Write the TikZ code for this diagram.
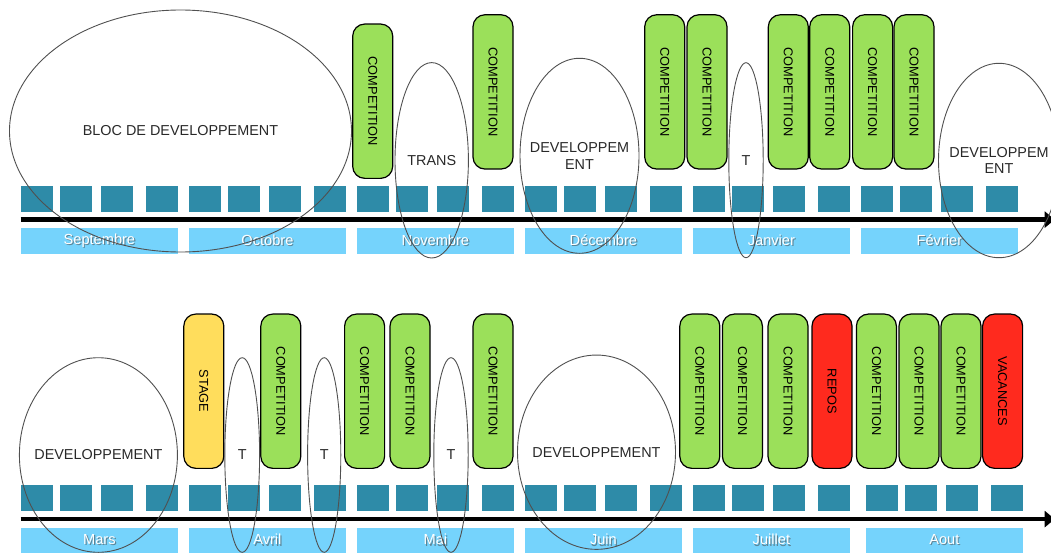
\documentclass[tikz,border=0pt]{standalone}
\usepackage{fontspec}
\setmainfont{Liberation Sans}
\usepackage{graphicx}
\usepackage{xcolor}
\usepackage{tikz}
\usetikzlibrary{shapes.geometric, arrows.meta, positioning, calc}
\definecolor{weekBg}{RGB}{46, 139, 168}
\definecolor{monthBg}{RGB}{117, 211, 252}
\definecolor{monthShadow}{RGB}{92, 132, 150}
\definecolor{greenBoxBg}{RGB}{155, 224, 90}
\definecolor{redBoxBg}{RGB}{255, 42, 30}
\definecolor{yellowBoxBg}{RGB}{255, 221, 92}
\definecolor{blocFg}{RGB}{80, 80, 80}
\definecolor{blocText}{RGB}{40, 40, 40}
\tikzstyle{axis} = [line width=4.4pt, -{Triangle[length=10pt, width=16pt]}]
\tikzstyle{week} = [rectangle, minimum width=32pt, minimum height=26pt, inner sep=0pt, fill=weekBg]
\tikzstyle{month} = [rectangle, minimum width=157pt, minimum height=25.5pt, inner sep=0pt, fill=monthBg, text=white, font=\fontsize{14.6}{16}\selectfont]
\tikzstyle{event} = [rectangle, rounded corners=12pt, minimum width=40pt, minimum height=154.3pt, inner sep=0pt, outer sep=0pt, draw=black, line width=1.2pt, text=black, font=\fontsize{12.8}{14}\selectfont]
\tikzstyle{greenstyle} = [fill=greenBoxBg]
\tikzstyle{redstyle} = [fill=redBoxBg]
\tikzstyle{yellowstyle} = [fill=yellowBoxBg]
\tikzstyle{bloc} = [ellipse, draw=blocFg, line width=0.9pt, inner sep=0pt, align=center, text=blocText, font=\fontsize{14.4}{16.6}\selectfont]
\newcommand{\shadowed}[1]{\makebox[0pt][l]{\hspace{1.2pt}\raisebox{-1.2pt}{\textcolor{monthShadow}{#1}}}#1}
\newcommand{\downtext}[1]{\rotatebox{-90}{#1}}

\begin{document}
\begin{tikzpicture}[x=1pt, y=1pt, node distance=0mm]
\useasboundingbox (0,0) rectangle (1051,-554);

% septembre -> fevrier
\node (sep) [month, anchor=north west] at (20.7,-228) {\shadowed{Septembre}};
\node (oct) [month, anchor=west, xshift=10.6pt] at(sep.east) {\shadowed{Octobre}};
\node (nov) [month, anchor=west, xshift=10.6pt] at(oct.east) {\shadowed{Novembre}};
\node (dec) [month, anchor=west, xshift=10.6pt] at(nov.east) {\shadowed{Décembre}};
\node (jan) [month, anchor=west, xshift=10.6pt] at(dec.east) {\shadowed{Janvier}};
\node (feb) [month, anchor=west, xshift=10.6pt] at(jan.east) {\shadowed{Février}};

\node (sep_0) [week, anchor=south west, yshift=16pt] at(sep.north west) {};
\node (sep_1) [week, anchor=south west, yshift=16pt, xshift=39pt] at(sep.north west) {};
\node (sep_2) [week, anchor=south west, yshift=16pt, xshift=80pt] at(sep.north west) {};
\node (sep_3) [week, anchor=south west, yshift=16pt, xshift=125pt] at(sep.north west) {};
\node (oct_0) [week, anchor=south west, yshift=16pt] at(oct.north west) {};
\node (oct_1) [week, anchor=south west, yshift=16pt, xshift=39pt] at(oct.north west) {};
\node (oct_2) [week, anchor=south west, yshift=16pt, xshift=80pt] at(oct.north west) {};
\node (oct_3) [week, anchor=south west, yshift=16pt, xshift=125pt] at(oct.north west) {};
\node (nov_0) [week, anchor=south west, yshift=16pt] at(nov.north west) {};
\node (nov_1) [week, anchor=south west, yshift=16pt, xshift=39pt] at(nov.north west) {};
\node (nov_2) [week, anchor=south west, yshift=16pt, xshift=80pt] at(nov.north west) {};
\node (nov_3) [week, anchor=south west, yshift=16pt, xshift=125pt] at(nov.north west) {};
\node (dec_0) [week, anchor=south west, yshift=16pt] at(dec.north west) {};
\node (dec_1) [week, anchor=south west, yshift=16pt, xshift=39pt] at(dec.north west) {};
\node (dec_2) [week, anchor=south west, yshift=16pt, xshift=80pt] at(dec.north west) {};
\node (dec_3) [week, anchor=south west, yshift=16pt, xshift=125pt] at(dec.north west) {};
\node (jan_0) [week, anchor=south west, yshift=16pt] at(jan.north west) {};
\node (jan_1) [week, anchor=south west, yshift=16pt, xshift=39pt] at(jan.north west) {};
\node (jan_2) [week, anchor=south west, yshift=16pt, xshift=80pt] at(jan.north west) {};
\node (jan_3) [week, anchor=south west, yshift=16pt, xshift=125pt] at(jan.north west) {};
\node (feb_0) [week, anchor=south west, yshift=16pt] at(feb.north west) {};
\node (feb_1) [week, anchor=south west, yshift=16pt, xshift=39pt] at(feb.north west) {};
\node (feb_2) [week, anchor=south west, yshift=16pt, xshift=80pt] at(feb.north west) {};
\node (feb_3) [week, anchor=south west, yshift=16pt, xshift=125pt] at(feb.north west) {};

\coordinate (axis0) at ($(sep.north west)+(0,8.4)$);
\coordinate (axis0_end) at ($(axis0)+(1034,0)$);
\draw [axis] (axis0) -- (axis0_end);

\node (comp0) [event, greenstyle] at (372.7,-101.2) {\downtext{COMPETITION}};
\node (comp1) [event, greenstyle] at (493,-91.9) {\downtext{COMPETITION}};
\node (comp2) [event, greenstyle] at (664.7,-91.9) {\downtext{COMPETITION}};
\node (comp3) [event, greenstyle, anchor=west, xshift=2.3pt] at(comp2.east) {\downtext{COMPETITION}};
\node (comp4) [event, greenstyle] at (788.3,-91.9) {\downtext{COMPETITION}};
\node (comp5) [event, greenstyle, anchor=west, xshift=1.4pt] at(comp4.east) {\downtext{COMPETITION}};
\node (comp6) [event, greenstyle, anchor=west, xshift=2.9pt] at(comp5.east) {\downtext{COMPETITION}};
\node (comp7) [event, greenstyle, anchor=west, xshift=1.4pt] at(comp6.east) {\downtext{COMPETITION}};

\node (bloc) [bloc, minimum width=342pt, minimum height=242pt] at (180.5,-131) {BLOC DE DEVELOPPEMENT};
\node (trans) [bloc, minimum width=73.4pt, minimum height=195.4pt] at (431.7,-160.3) {TRANS};
\node (dev_dec) [bloc, minimum width=119pt, minimum height=195pt] at (579.5,-155.8) {\makebox[0pt]{DEVELOPPEM}\\\makebox[0pt]{ENT}};
\node (t_jan) [bloc, minimum width=34.4pt, minimum height=195pt] at (746,-160.2) {T};
\node (dev_feb) [bloc, minimum width=121pt, minimum height=194.4pt] at (999,-160.5) {\makebox[0pt]{DEVELOPPEM}\\\makebox[0pt]{ENT}};

% mars -> aout
\node (mar) [month, anchor=north west] at (20.7,-527.3) {\shadowed{Mars}};
\node (avr) [month, anchor=west, xshift=10.6pt] at(mar.east) {\shadowed{Avril}};
\node (mai) [month, anchor=west, xshift=10.6pt] at(avr.east) {\shadowed{Mai}};
\node (juin) [month, anchor=west, xshift=10.6pt] at(mai.east) {\shadowed{Juin}};
\node (juil) [month, anchor=west, xshift=10.6pt] at(juin.east) {\shadowed{Juillet}};
\node (aout) [month, anchor=west, xshift=15.5pt] at(juil.east) {\shadowed{Aout}};

\node (mar_0) [week, anchor=south west, yshift=16pt] at(mar.north west) {};
\node (mar_1) [week, anchor=south west, yshift=16pt, xshift=39pt] at(mar.north west) {};
\node (mar_2) [week, anchor=south west, yshift=16pt, xshift=80pt] at(mar.north west) {};
\node (mar_3) [week, anchor=south west, yshift=16pt, xshift=125pt] at(mar.north west) {};
\node (avr_0) [week, anchor=south west, yshift=16pt] at(avr.north west) {};
\node (avr_1) [week, anchor=south west, yshift=16pt, xshift=39pt] at(avr.north west) {};
\node (avr_2) [week, anchor=south west, yshift=16pt, xshift=80pt] at(avr.north west) {};
\node (avr_3) [week, anchor=south west, yshift=16pt, xshift=125pt] at(avr.north west) {};
\node (mai_0) [week, anchor=south west, yshift=16pt] at(mai.north west) {};
\node (mai_1) [week, anchor=south west, yshift=16pt, xshift=39pt] at(mai.north west) {};
\node (mai_2) [week, anchor=south west, yshift=16pt, xshift=80pt] at(mai.north west) {};
\node (mai_3) [week, anchor=south west, yshift=16pt, xshift=125pt] at(mai.north west) {};
\node (juin_0) [week, anchor=south west, yshift=16pt] at(juin.north west) {};
\node (juin_1) [week, anchor=south west, yshift=16pt, xshift=39pt] at(juin.north west) {};
\node (juin_2) [week, anchor=south west, yshift=16pt, xshift=80pt] at(juin.north west) {};
\node (juin_3) [week, anchor=south west, yshift=16pt, xshift=125pt] at(juin.north west) {};
\node (juil_0) [week, anchor=south west, yshift=16pt] at(juil.north west) {};
\node (juil_1) [week, anchor=south west, yshift=16pt, xshift=39pt] at(juil.north west) {};
\node (juil_2) [week, anchor=south west, yshift=16pt, xshift=80pt] at(juil.north west) {};
\node (juil_3) [week, anchor=south west, yshift=16pt, xshift=125pt] at(juil.north west) {};
\node (aout_0) [week, anchor=south west, yshift=16pt] at(aout.north west) {};
\node (aout_1) [week, anchor=south west, yshift=16pt, xshift=39pt] at(aout.north west) {};
\node (aout_2) [week, anchor=south west, yshift=16pt, xshift=80pt] at(aout.north west) {};
\node (aout_3) [week, anchor=south west, yshift=16pt, xshift=125pt] at(aout.north west) {};

\coordinate (axis1) at ($(mar.north west)+(0,8.2)$);
\coordinate (axis1_end) at ($(axis1)+(1034,0)$);
\draw [axis] (axis1) -- (axis1_end);

\node (stage) [event, yellowstyle] at (203.8,-391.2) {\downtext{STAGE}};
\node (comp8) [event, greenstyle] at (280.8,-391.2) {\downtext{COMPETITION}};
\node (comp9) [event, greenstyle] at (364.6,-391.2) {\downtext{COMPETITION}};
\node (comp10) [event, greenstyle, anchor=west, xshift=5.4pt] at(comp9.east) {\downtext{COMPETITION}};
\node (comp11) [event, greenstyle] at (493,-391.2) {\downtext{COMPETITION}};
\node (comp12) [event, greenstyle] at (699.8,-391.2) {\downtext{COMPETITION}};
\node (comp13) [event, greenstyle, anchor=west, xshift=2.6pt] at(comp12.east) {\downtext{COMPETITION}};
\node (comp14) [event, greenstyle, anchor=west, xshift=5.6pt] at(comp13.east) {\downtext{COMPETITION}};
\node (repos) [event, redstyle, anchor=west, xshift=4pt] at(comp14.east) {\downtext{REPOS}};
\node (comp15) [event, greenstyle, anchor=west, xshift=4.4pt] at(repos.east) {\downtext{COMPETITION}};
\node (comp16) [event, greenstyle, anchor=west, xshift=2.6pt] at(comp15.east) {\downtext{COMPETITION}};
\node (comp17) [event, greenstyle, anchor=west, xshift=2pt] at(comp16.east) {\downtext{COMPETITION}};
\node (vacances) [event, redstyle, anchor=west, xshift=1.6pt] at(comp17.east) {\downtext{VACANCES}};

\node (dev_mar) [bloc, minimum width=158pt, minimum height=194.6pt] at (98.4,-455) {\makebox[0pt]{DEVELOPPEMENT}};
\node (t_avr0) [bloc, minimum width=34.8pt, minimum height=194.6pt] at (242.2,-455) {T};
\node (t_avr1) [bloc, minimum width=33.2pt, minimum height=194.6pt] at (324.2,-455) {T};
\node (t_mai) [bloc, minimum width=34.4pt, minimum height=194.6pt] at (451,-455) {T};
\node (dev_juin) [bloc, minimum width=158pt, minimum height=194.3pt] at (596.5,-452.2) {\makebox[0pt]{DEVELOPPEMENT}};

\end{tikzpicture}
\end{document}
